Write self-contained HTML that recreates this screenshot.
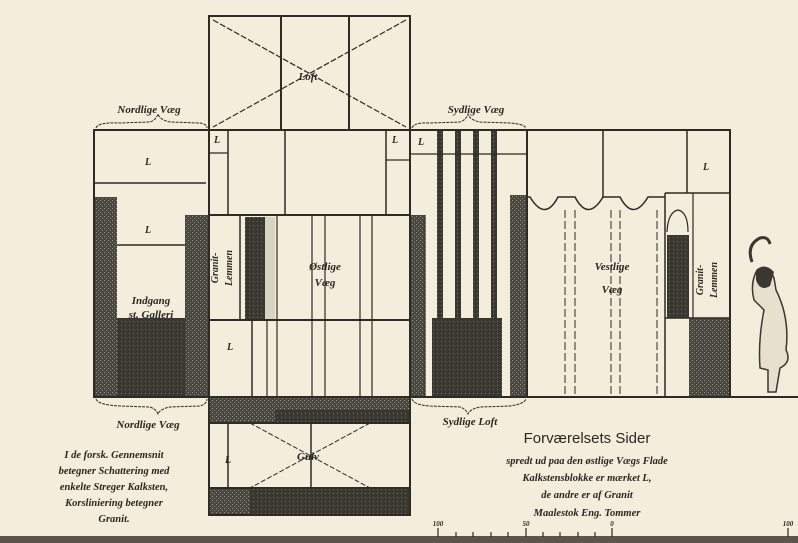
<!DOCTYPE html>
<html><head><meta charset="utf-8"><style>
html,body{margin:0;padding:0;background:#f2eedb;}
svg{display:block}
text{font-family:"Liberation Serif",serif;font-style:italic;font-weight:bold;fill:#2a2622}
</style></head><body>
<svg width="798" height="543" viewBox="0 0 798 543" xmlns="http://www.w3.org/2000/svg">
<defs>
<pattern id="d" width="4" height="4" patternUnits="userSpaceOnUse">
<rect width="4" height="4" fill="#4a4640"/><rect x="0" y="0" width="1" height="1" fill="#9a968a"/><rect x="2" y="2" width="1" height="1" fill="#8a867c"/>
</pattern>
<pattern id="dd" width="4" height="4" patternUnits="userSpaceOnUse">
<rect width="4" height="4" fill="#3a3630"/><rect x="1" y="1" width="1" height="1" fill="#77736a"/>
</pattern>
</defs>
<rect width="798" height="543" fill="#f2eedb"/>
<g stroke="#2e2a26" fill="none" stroke-width="2">
<!-- Loft -->
<rect x="209" y="16" width="201" height="114"/>
<line x1="281" y1="16" x2="281" y2="130"/><line x1="349" y1="16" x2="349" y2="130"/>
<line x1="213" y1="20" x2="406" y2="127" stroke-width="1.2" stroke-dasharray="6 2"/>
<line x1="406" y1="20" x2="213" y2="127" stroke-width="1.2" stroke-dasharray="6 2"/>
<!-- braces -->
<path d="M96 128 Q98 122 120 123 L150 122 Q156 120 158 114 Q160 120 170 122 L200 123 Q207 124 207 128" stroke-width="1" stroke-dasharray="3 1"/>
<path d="M412 128 Q414 122 430 123 L460 122 Q466 120 468 114 Q470 120 480 122 L510 123 Q524 124 526 128" stroke-width="1" stroke-dasharray="3 1"/>
<path d="M96 399 Q98 405 120 406 L150 407 Q156 409 158 414 Q160 409 170 407 L200 406 Q207 404 207 399" stroke-width="1" stroke-dasharray="3 1"/>
<path d="M412 399 Q414 405 430 406 L460 407 Q466 409 468 414 Q470 409 480 407 L510 406 Q524 404 526 399" stroke-width="1" stroke-dasharray="3 1"/>
</g>
<!-- Nordlige -->
<rect x="94" y="197" width="23" height="200" fill="url(#d)"/>
<rect x="117" y="318" width="68" height="79" fill="url(#dd)"/>
<rect x="185" y="215" width="24" height="182" fill="url(#d)"/>
<g stroke="#2e2a26" fill="none" stroke-width="2">
<rect x="94" y="130" width="115" height="267"/>
<line x1="94" y1="183" x2="206" y2="183" stroke-width="1.5"/>
<line x1="117" y1="245" x2="185" y2="245" stroke-width="1.5"/>
</g>
<!-- East wall -->
<rect x="245" y="217" width="20" height="102" fill="url(#dd)"/>
<rect x="265" y="217" width="10" height="102" fill="#d8d4c2"/>
<rect x="209" y="397" width="201" height="26" fill="url(#d)"/>
<rect x="275" y="410" width="135" height="13" fill="url(#dd)"/>
<rect x="209" y="488" width="201" height="27" fill="url(#d)"/>
<rect x="250" y="488" width="160" height="27" fill="url(#dd)"/>
<rect x="410" y="215" width="15" height="182" fill="url(#d)"/>
<g stroke="#2e2a26" fill="none" stroke-width="2">
<rect x="209" y="130" width="201" height="267"/>
<line x1="209" y1="215" x2="410" y2="215"/>
<line x1="209" y1="320" x2="410" y2="320"/>
<line x1="228" y1="130" x2="228" y2="215" stroke-width="1.5"/>
<line x1="209" y1="153" x2="228" y2="153" stroke-width="1.2"/>
<line x1="285" y1="130" x2="285" y2="215" stroke-width="1.5"/>
<line x1="386" y1="130" x2="386" y2="215" stroke-width="1.5"/>
<line x1="386" y1="160" x2="410" y2="160" stroke-width="1.2"/>
<line x1="240" y1="215" x2="240" y2="320" stroke-width="1.5"/>
<line x1="252" y1="320" x2="252" y2="397" stroke-width="1.5"/>
<g stroke-width="1.2">
<line x1="267" y1="320" x2="267" y2="397"/><line x1="277" y1="215" x2="277" y2="397"/>
<line x1="312" y1="215" x2="312" y2="397"/><line x1="325" y1="215" x2="325" y2="397"/>
<line x1="360" y1="215" x2="360" y2="397"/><line x1="372" y1="215" x2="372" y2="397"/>
</g>
<!-- Gulv -->
<rect x="209" y="397" width="201" height="118"/>
<line x1="209" y1="423" x2="410" y2="423"/><line x1="209" y1="488" x2="410" y2="488"/>
<line x1="228" y1="423" x2="228" y2="488" stroke-width="1.5"/>
<line x1="311" y1="423" x2="311" y2="488" stroke-width="1.5"/>
<line x1="250" y1="423" x2="370" y2="488" stroke-width="1" stroke-dasharray="5 2"/>
<line x1="370" y1="423" x2="250" y2="488" stroke-width="1" stroke-dasharray="5 2"/>
</g>
<!-- Sydlige -->
<rect x="432" y="318" width="70" height="79" fill="url(#dd)"/>
<rect x="510" y="195" width="16" height="202" fill="url(#d)"/>
<g fill="url(#dd)">
<rect x="437" y="130" width="6" height="190"/><rect x="455" y="130" width="6" height="190"/>
<rect x="473" y="130" width="6" height="190"/><rect x="491" y="130" width="6" height="190"/>
</g>
<g stroke="#2e2a26" fill="none" stroke-width="2">
<rect x="410" y="130" width="117" height="267"/>
<line x1="410" y1="154" x2="527" y2="154" stroke-width="1.2"/>
<line x1="425" y1="215" x2="425" y2="397" stroke-width="1.2"/>
</g>
<!-- Vestlige -->
<rect x="667" y="235" width="22" height="83" fill="url(#dd)"/>
<rect x="689" y="318" width="41" height="79" fill="url(#d)"/>
<g stroke="#2e2a26" fill="none" stroke-width="2">
<rect x="527" y="130" width="203" height="267"/>
<line x1="603" y1="130" x2="603" y2="198" stroke-width="1.5"/>
<line x1="687" y1="130" x2="687" y2="193" stroke-width="1.5"/>
<path d="M527 197 L530 197 Q545 222 558 197 L575 197 Q588 222 603 197 L620 197 Q633 222 648 197 L665 197" stroke-width="1.5"/>
<path d="M665 193 L730 193" stroke-width="1.5"/>
<line x1="665" y1="193" x2="665" y2="397" stroke-width="1.5"/>
<line x1="693" y1="193" x2="693" y2="318" stroke-width="1.2"/>
<line x1="665" y1="318" x2="730" y2="318" stroke-width="1.5"/>
<path d="M667 232 Q668 212 678 210 Q688 212 688 232" stroke-width="1.2"/>
<g stroke-width="1" stroke-dasharray="8 3">
<line x1="565" y1="210" x2="565" y2="397"/><line x1="575" y1="210" x2="575" y2="397"/>
<line x1="611" y1="210" x2="611" y2="397"/><line x1="620" y1="210" x2="620" y2="397"/>
<line x1="657" y1="210" x2="657" y2="397"/>
</g>
<line x1="730" y1="397" x2="798" y2="397" stroke-width="2"/>
</g>
<!-- figure -->
<g fill="#3a3630">
<path d="M756 272 Q768 262 774 278 L776 290 Q790 318 786 350 Q792 362 780 368 L776 392 L768 392 L768 370 L760 368 Q758 340 764 310 L754 300 Q750 285 756 272 Z" fill="#e6e0cc" stroke="#3a3630" stroke-width="1.5"/>
<path d="M756 270 Q765 262 774 272 L770 286 Q760 292 756 280 Z"/>
<path d="M752 262 Q746 245 760 238 Q768 236 770 244" fill="none" stroke="#3a3630" stroke-width="3"/>
</g>
<!-- bottom rule & scale -->
<rect x="0" y="536" width="798" height="7" fill="#5a564e"/>
<g stroke="#2e2a26" stroke-width="1.2">
<line x1="438" y1="528" x2="438" y2="537"/><line x1="526" y1="528" x2="526" y2="537"/><line x1="612" y1="528" x2="612" y2="537"/><line x1="788" y1="528" x2="788" y2="537"/>
<line x1="456" y1="532" x2="456" y2="537"/><line x1="473" y1="532" x2="473" y2="537"/><line x1="491" y1="532" x2="491" y2="537"/><line x1="508" y1="532" x2="508" y2="537"/>
<line x1="543" y1="532" x2="543" y2="537"/><line x1="560" y1="532" x2="560" y2="537"/><line x1="578" y1="532" x2="578" y2="537"/><line x1="595" y1="532" x2="595" y2="537"/>
</g>
<g style="font-style:normal;font-family:'Liberation Sans',sans-serif" font-size="7" text-anchor="middle">
<text x="438" y="526">100</text><text x="526" y="526">50</text><text x="612" y="526">0</text><text x="788" y="526">100</text>
</g>
<!-- labels -->
<g font-size="11" text-anchor="middle">
<text x="149" y="113">Nordlige Væg</text>
<text x="476" y="113">Sydlige Væg</text>
<text x="308" y="80">Loft</text>
<text x="148" y="428">Nordlige Væg</text>
<text x="470" y="425">Sydlige Loft</text>
<text x="308" y="460">Gulv</text>
<text x="151" y="304">Indgang</text>
<text x="151" y="318">st. Galleri</text>
<text x="325" y="270">Østlige</text>
<text x="325" y="286">Væg</text>
<text x="612" y="270">Vestlige</text>
<text x="612" y="293">Væg</text>
</g>
<g font-size="10" text-anchor="middle">
<text transform="translate(218,268) rotate(-90)">Granit-</text>
<text transform="translate(232,268) rotate(-90)">Lemmen</text>
<text transform="translate(703,280) rotate(-90)">Granit-</text>
<text transform="translate(717,280) rotate(-90)">Lemmen</text>
</g>
<g style="font-style:normal;font-family:'Liberation Sans',sans-serif" font-size="10" text-anchor="middle">
<text x="148" y="233">L</text><text x="148" y="165">L</text><text x="230" y="350">L</text><text x="228" y="463">L</text>
<text x="217" y="143">L</text><text x="395" y="143">L</text><text x="421" y="145">L</text><text x="706" y="170">L</text>
</g>
<g font-size="10.5" text-anchor="middle">
<text x="114" y="458">I de forsk. Gennemsnit</text>
<text x="114" y="474">betegner Schattering med</text>
<text x="114" y="490">enkelte Streger Kalksten,</text>
<text x="114" y="506">Korsliniering betegner</text>
<text x="114" y="522">Granit.</text>
<text x="587" y="464">spredt ud paa den østlige Vægs Flade</text>
<text x="587" y="481">Kalkstensblokke er mærket L,</text>
<text x="587" y="498">de andre er af Granit</text>
<text x="587" y="516">Maalestok Eng. Tommer</text>
</g>
<text x="587" y="443" text-anchor="middle" style="font-style:normal;font-weight:normal;font-family:'Liberation Sans',sans-serif" font-size="15">Forværelsets Sider</text>
</svg>
</body></html>
